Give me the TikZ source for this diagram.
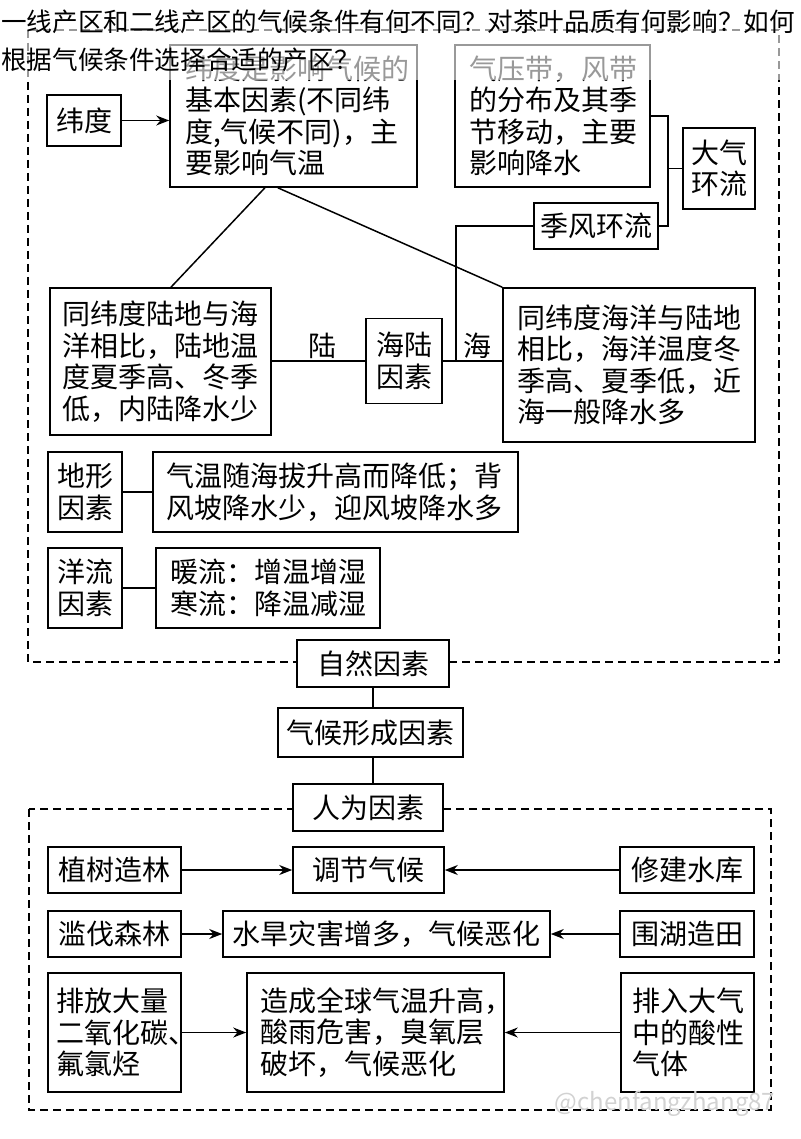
\documentclass[tikz,border=0pt]{standalone}
\usepackage{fontspec}
\newfontfamily\cjk{Noto Sans CJK SC}
\usetikzlibrary{arrows.meta,calc}
\begin{document}
\begin{tikzpicture}[x=1pt,y=-1pt,
  bx/.style={draw, line width=1.6pt, fill=white, inner sep=0pt, font=\cjk\fontsize{28}{31.5}\selectfont},
  cbox/.style={bx, align=center},
  lbox/.style={bx, align=left},
  conn/.style={line width=1.5pt},
  arr/.style={conn, -{Stealth[length=13pt,width=10pt]}},
  dashbox/.style={line width=1.5pt, dash pattern=on 8pt off 5pt},
  lbl/.style={font=\cjk\fontsize{28}{31.5}\selectfont, inner sep=0pt},
  ttl/.style={font=\cjk\fontsize{25.6}{30}\selectfont, inner sep=0pt, anchor=west}]
\useasboundingbox (0,0) rectangle (800,1139);
\fill[white] (0,0) rectangle (800,1139);
% dashed frames
\draw[dashbox] (28,30) rectangle (779,662);
\draw[dashbox] (29,809) rectangle (771,1110);
% natural factors
\node[cbox, minimum width=74pt, minimum height=51pt] (wd) at (84,120.5) {纬度};
\node[lbox, text width=217pt, inner xsep=15pt, minimum height=142pt] (wj) at (293.5,116) {纬度是影响气候的\\基本因素(不同纬\\度,气候不同)，主\\要影响气温};
\node[lbox, text width=167pt, inner xsep=14pt, minimum height=142pt] (qy) at (552.5,116) {气压带，风带\\的分布及其季\\节移动，主要\\影响降水};
\node[cbox, minimum width=72pt, minimum height=81pt] (dq) at (719,168.5) {大气\\环流};
\node[cbox, minimum width=124pt, minimum height=46pt] (jf) at (596,226) {季风环流};
\node[cbox, minimum width=76pt, minimum height=85pt] (hl) at (404,361) {海陆\\因素};
\node[lbox, text width=197pt, inner xsep=12pt, minimum height=147pt] (land) at (160.5,361.5) {同纬度陆地与海\\洋相比，陆地温\\度夏季高、冬季\\低，内陆降水少};
\node[lbox, text width=224pt, inner xsep=14pt, minimum height=154pt] (sea) at (629,365) {同纬度海洋与陆地\\相比，海洋温度冬\\季高、夏季低，近\\海一般降水多};
\node[cbox, minimum width=74pt, minimum height=80pt] (terr) at (85,492) {地形\\因素};
\node[lbox, text width=339pt, inner xsep=13pt, minimum height=80pt] (terrtxt) at (335.5,492) {气温随海拔升高而降低；背\\风坡降水少，迎风坡降水多};
\node[cbox, minimum width=74pt, minimum height=80pt] (cur) at (85,588) {洋流\\因素};
\node[lbox, text width=196pt, inner xsep=14pt, minimum height=80pt] (curtxt) at (268,588) {暖流：增温增湿\\寒流：降温减湿};
\node[cbox, minimum width=152pt, minimum height=47pt] (zr) at (373,663.5) {自然因素};
\node[cbox, minimum width=185pt, minimum height=49pt] (qh) at (370.5,732.5) {气候形成因素};
\node[cbox, minimum width=150pt, minimum height=47pt] (rw) at (368,807.5) {人为因素};
% human factors
\node[cbox, minimum width=133pt, minimum height=46pt] (zs) at (114.5,870) {植树造林};
\node[cbox, minimum width=151pt, minimum height=46pt] (tj) at (368.5,870) {调节气候};
\node[cbox, minimum width=134pt, minimum height=46pt] (xj) at (687,870) {修建水库};
\node[cbox, minimum width=133pt, minimum height=46pt] (lf) at (114.5,934) {滥伐森林};
\node[cbox, minimum width=327pt, minimum height=46pt] (sh) at (386.5,934) {水旱灾害增多，气候恶化};
\node[cbox, minimum width=134pt, minimum height=46pt] (wh) at (687,934) {围湖造田};
\node[lbox, text width=117pt, inner xsep=8pt, minimum height=119pt] (pf) at (114.5,1032.5) {排放大量\\二氧化碳、\\氟氯烃};
\node[lbox, text width=231pt, inner xsep=13pt, minimum height=119pt] (zc) at (375.5,1032.5) {造成全球气温升高，\\酸雨危害，臭氧层\\破坏，气候恶化};
\node[lbox, text width=111pt, inner xsep=11pt, minimum height=119pt] (pr) at (687.5,1032.5) {排入大气\\中的酸性\\气体};
% connectors
\coordinate (bus) at (668,0);
\coordinate (sj) at (456,0);
\draw[arr] (wd.east) -- (wd.east -| wj.west);
\draw[conn] (qy.east) -- (qy.east -| bus) -- (jf.east -| bus) -- (jf.east);
\draw[conn] (dq.west) -- (dq.west -| bus);
\draw[conn] (jf.west) -| (sj |- hl.east);
\draw[conn] (land.east |- hl.west) -- (hl.west);
\draw[conn] (hl.east) -- (hl.east -| sea.west);
\node[lbl] (lu) at (322,346) {陆};
\node[lbl] (hai) at (477,346) {海};
\draw[conn] ($(wj.south west)!0.385!(wj.south east)$) -- ($(land.north west)!0.547!(land.north east)$);
\draw[conn] ($(wj.south west)!0.437!(wj.south east)$) -- (sea.north west);
\draw[conn] (terr.east) -- (terr.east -| terrtxt.west);
\draw[conn] (cur.east) -- (cur.east -| curtxt.west);
\draw[conn] (zr.south) -- (zr.south |- qh.north);
\draw[conn] (zr.south |- qh.south) -- (zr.south |- rw.north);
\draw[arr] (zs.east) -- (tj.west);
\draw[arr] (xj.west) -- (tj.east);
\draw[arr] (lf.east) -- (sh.west);
\draw[arr] (wh.west) -- (sh.east);
\draw[arr] (pf.east) -- (zc.west);
\draw[arr] (pr.west) -- (zc.east);
% title overlay
\fill[white, opacity=0.6] (0,0) rectangle (800,80);
\node[ttl] (t1) at (1,22) {一线产区和二线产区的气候条件有何不同？对茶叶品质有何影响？如何};
\node[ttl] (t2) at (1,60) {根据气候条件选择合适的产区？};
% watermark
\node[font=\cjk\fontsize{24}{24}\selectfont, text=gray!35, inner sep=0pt] (wm) at (665,1104) {@chenfangzhang87};
\end{tikzpicture}
\end{document}
